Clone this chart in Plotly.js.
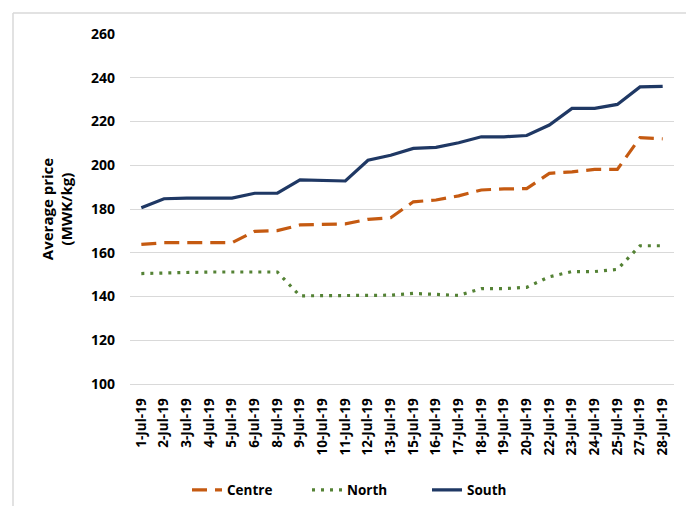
<!DOCTYPE html>
<html>
<head>
<meta charset="utf-8">
<script src="https://cdn.plot.ly/plotly-3.0.1.min.js"></script>
<style>html,body{margin:0;padding:0;background:#fff;}#chart{width:686px;height:506px;}</style>
</head>
<body>
<div id="chart"></div>
<script>
const dates = ["1-Jul-19","2-Jul-19","3-Jul-19","4-Jul-19","5-Jul-19","6-Jul-19","8-Jul-19","9-Jul-19","10-Jul-19","11-Jul-19","12-Jul-19","13-Jul-19","15-Jul-19","16-Jul-19","17-Jul-19","18-Jul-19","19-Jul-19","20-Jul-19","22-Jul-19","23-Jul-19","24-Jul-19","25-Jul-19","27-Jul-19","28-Jul-19"];
const centre = [163.8,164.6,164.6,164.6,164.6,169.8,170.1,172.7,173.1,173.2,175.3,176,183.3,184.1,186,188.7,189.2,189.3,196.3,197,198.1,198.1,212.6,212.1];
const north  = [150.5,150.7,151.2,151.2,151.2,151.2,151.2,140.3,140.4,140.5,140.5,140.6,141.4,140.8,140.5,143.6,143.6,144.2,149,151.4,151.4,152.4,163.2,163.2];
const south  = [180.6,184.7,185,185,185,187.2,187.2,193.3,193.2,192.8,202.3,204.6,207.7,208.2,210.3,213,213,213.6,218.4,226,226,227.8,235.8,236.1];
const yTicks = [100,120,140,160,180,200,220,240,260];

const font = "Open Sans, Noto Sans, sans-serif";
const traces = [
  {x: dates, y: centre, name: "Centre", type: "scatter", mode: "lines",
   line: {color: "#C55A11", width: 3.2, dash: "15px,8px"}},
  {x: dates, y: north, name: "North", type: "scatter", mode: "lines",
   line: {color: "#548235", width: 3.2, dash: "3px,6px"}},
  {x: dates, y: south, name: "South", type: "scatter", mode: "lines",
   line: {color: "#1F3864", width: 3.2}}
];
const W = 686, H = 506, L = 130, R = 12, T = 34, B = 122;
const pw = W - L - R, ph = H - T - B;
const px = v => (v - L) / pw;
const py = v => 1 - (v - T) / ph;
const layout = {
  width: W, height: H,
  margin: {l: L, r: R, t: T, b: B, pad: 0, autoexpand: false},
  paper_bgcolor: "#fff", plot_bgcolor: "#fff",
  font: {family: font, color: "#000", size: 12},
  showlegend: true,
  legend: {orientation: "h", xref: "container", yref: "container", x: 187 / W, xanchor: "left",
           y: 1 - 490 / H, yanchor: "middle", entrywidth: 75, entrywidthmode: "pixels",
           font: {family: font, size: 13.5, color: "#000", weight: "bold"}, tracegroupgap: 0},
  xaxis: {type: "category", range: [-0.5, 23.5], tickangle: -90, showgrid: false, automargin: false,
          showline: true, linecolor: "#d9d9d9", linewidth: 1, ticks: "", ticklabelstandoff: 8,
          tickfont: {family: font, size: 13.5, color: "#000", weight: "bold"}, fixedrange: true},
  yaxis: {range: [100, 260], tickvals: yTicks, ticktext: yTicks.map(String), showgrid: true,
          gridcolor: "#d9d9d9", gridwidth: 1, zeroline: false, showline: false, ticks: "",
          ticklabelstandoff: 14, automargin: false,
          tickfont: {family: font, size: 14, color: "#000", weight: "bold"},
          title: {text: "Average price<br>(MWK/kg)", standoff: 14,
                  font: {family: font, size: 15, color: "#000", weight: "bold"}}},
  shapes: [
    {type: "line", xref: "paper", yref: "paper", x0: px(13), x1: px(700), y0: py(13), y1: py(13),
     line: {color: "#d9d9d9", width: 1.5}},
    {type: "line", xref: "paper", yref: "paper", x0: px(13), x1: px(13), y0: py(13), y1: py(520),
     line: {color: "#d9d9d9", width: 1.5}}
  ]
};
Plotly.newPlot("chart", traces, layout, {displayModeBar: false, staticPlot: true});
</script>
</body>
</html>
